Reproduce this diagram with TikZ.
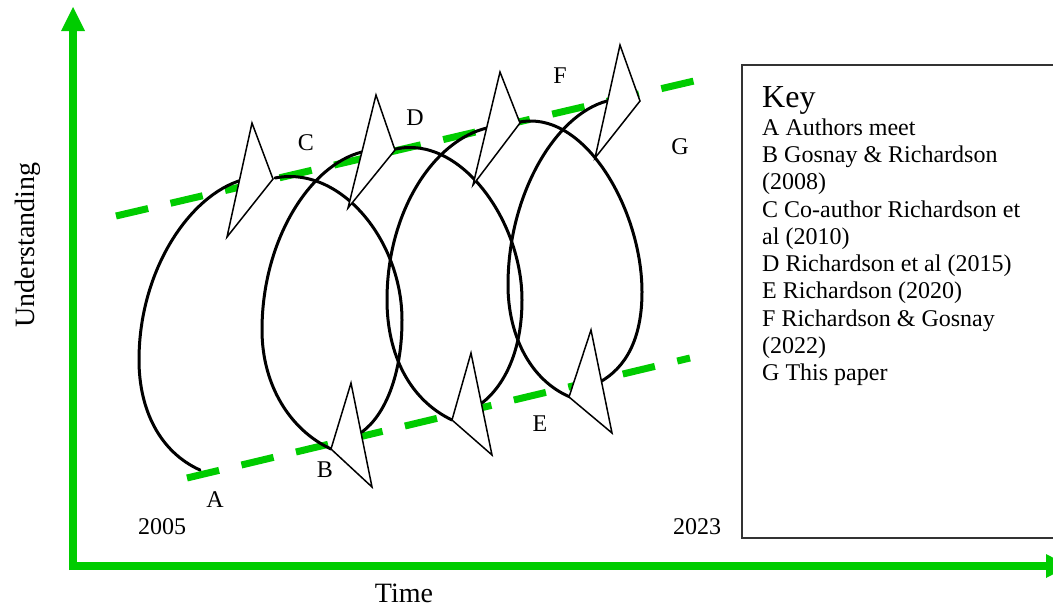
\documentclass[tikz,border=0pt]{standalone}
\usepackage{fontspec}
\setmainfont{Liberation Serif}
\definecolor{axisgreen}{RGB}{0,204,0}
\tikzset{
  grn/.style={draw=axisgreen, line width=7pt, dash pattern=on 33pt off 23pt},
  axisline/.style={draw=axisgreen, line width=8pt},
  axishead/.style={fill=axisgreen},
  loopline/.style={line width=3pt, line join=round, line cap=round},
  tri/.style={draw=black, fill=white, line width=1.5pt, line join=miter},
  lbl/.style={inner sep=0pt, font=\fontsize{24}{28}\selectfont},
  axlbl/.style={inner sep=0pt, font=\fontsize{28}{32}\selectfont},
  keytxt/.style={inner sep=0pt, anchor=base west, font=\fontsize{24}{28}\selectfont},
  keyhead/.style={inner sep=0pt, anchor=base west, font=\fontsize{32}{36}\selectfont},
}
\begin{document}
\begin{tikzpicture}[x=1pt, y=-1pt]
\useasboundingbox (0,0) rectangle (1053,608);

% key box
\draw[line width=1.5pt, draw=black!80] (742,65) rectangle (1065,538);

% axes
\coordinate (ytip) at (73,7);
\coordinate (xtip) at (1069,566);
\draw[axisline] (73,570) -- (73,28);
\draw[axisline] (69,566) -- (1048,566);
\fill[axishead] (61,31) -- (ytip) -- (85,31) -- cycle;
\fill[axishead] (1046,554) -- (xtip) -- (1046,578) -- cycle;

% green dashed trend lines
\coordinate (tl1) at (116,216);
\coordinate (tl2) at (694,81);
\coordinate (bl1) at (187,478);
\coordinate (bl2) at (690,358);
\draw[grn] (tl1) -- (tl2);
\draw[grn] (bl1) -- (bl2);

% spiral loops
\draw[loopline] (200,470) .. controls (160,452) and (139,410) .. (139,360)
                          .. controls (139,270) and (190,195) .. (242,180);
\draw[loopline] (275,178) .. controls (340,165) and (402,240) .. (402,320)
                          .. controls (402,375) and (385,415) .. (362,432);
\draw[loopline] (331,449) .. controls (290,430) and (262,385) .. (262,330)
                          .. controls (262,240) and (310,165) .. (362,152);
\draw[loopline] (396,149) .. controls (460,135) and (522,220) .. (522,300)
                          .. controls (522,350) and (505,385) .. (482,403);
\draw[loopline] (452,420) .. controls (410,400) and (387,355) .. (387,300)
                          .. controls (387,210) and (435,140) .. (487,128);
\draw[loopline] (520,122) .. controls (585,110) and (642,210) .. (642,292)
                          .. controls (642,340) and (625,368) .. (600,382);
\draw[loopline] (570,397) .. controls (530,380) and (508,335) .. (508,285)
                          .. controls (508,195) and (555,115) .. (607,101);

% arrowheads (open triangles)
\draw[tri] (252,123) -- (227,237) -- (273,179) -- cycle;
\draw[tri] (351,383) -- (331,449) -- (372,487) -- cycle;
\draw[tri] (376,95) -- (348,208) -- (395,150) -- cycle;
\draw[tri] (471,353) -- (452,420) -- (492,455) -- cycle;
\draw[tri] (500,72) -- (473,185) -- (520,123) -- cycle;
\draw[tri] (591,330) -- (569,397) -- (612,433) -- cycle;
\draw[tri] (620,45) -- (595,158) -- (640,101) -- cycle;

% event labels
\node[lbl] (A) at (215,500) {A};
\node[lbl] (B) at (325,470) {B};
\node[lbl] (C) at (306,143) {C};
\node[lbl] (D) at (415,118) {D};
\node[lbl] (E) at (540,424) {E};
\node[lbl] (F) at (560,76) {F};
\node[lbl] (G) at (680,147) {G};
\node[lbl] (y1) at (162,527) {2005};
\node[lbl] (y2) at (697,527) {2023};

% axis labels
\node[axlbl] (xlab) at (404,593) {Time};
\node[axlbl, rotate=90] (ylab) at (28,245) {Understanding};

% key
\node[keyhead] (k0) at (762,107) {Key};
\node[keytxt] (k1) at (762,135) {A Authors meet};
\node[keytxt] (k2) at (762,162) {B Gosnay \& Richardson};
\node[keytxt] (k3) at (762,189) {(2008)};
\node[keytxt] (k4) at (762,217) {C Co-author Richardson et};
\node[keytxt] (k5) at (762,244) {al (2010)};
\node[keytxt] (k6) at (762,271) {D Richardson et al (2015)};
\node[keytxt] (k7) at (762,298) {E Richardson (2020)};
\node[keytxt] (k8) at (762,326) {F Richardson \& Gosnay};
\node[keytxt] (k9) at (762,353) {(2022)};
\node[keytxt] (k10) at (762,380) {G This paper};
\end{tikzpicture}
\end{document}
